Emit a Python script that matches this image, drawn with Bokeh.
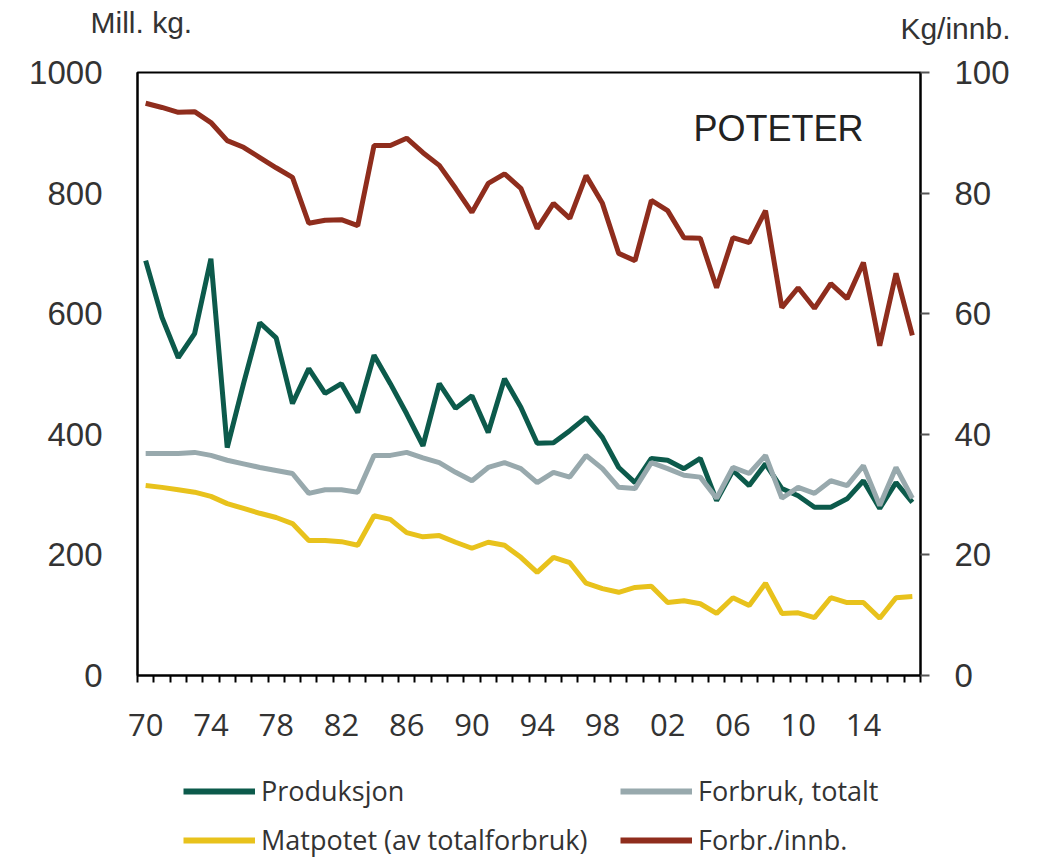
from bokeh.plotting import figure
from bokeh.layouts import column
from bokeh.models import (Range1d, LinearAxis, FixedTicker, Legend, LegendItem, Label)
from bokeh.embed import file_html
from bokeh.resources import INLINE

years = list(range(1970, 2018))

produksjon = [688, 594, 527, 567, 691, 378, 484, 585, 560, 451,
              509, 468, 484, 436, 531, 484, 434, 381, 484, 443,
              464, 403, 492, 445, 385, 386, 406, 428, 395, 345,
              320, 360, 357, 343, 360, 290, 340, 315, 351, 310,
              298, 279, 279, 293, 323, 277, 320, 287]

forbruk_totalt = [368, 368, 368, 370, 365, 357, 351, 345, 340, 335,
                  302, 308, 308, 304, 365, 365, 370, 361, 353, 337,
                  323, 345, 353, 343, 320, 337, 329, 365, 343, 312,
                  310, 353, 343, 332, 329, 294, 345, 335, 365, 294,
                  312, 302, 323, 315, 348, 282, 345, 294]

matpotet = [315, 312, 308, 304, 297, 285, 277, 269, 262, 252,
            224, 224, 222, 216, 265, 259, 237, 230, 232, 221,
            211, 221, 216, 196, 171, 196, 187, 153, 144, 138,
            146, 148, 121, 124, 119, 103, 129, 116, 153, 103,
            104, 96, 129, 121, 121, 95, 129, 131]

forbr_innb = [94.9, 94.2, 93.4, 93.5, 91.7, 88.7, 87.6, 85.9, 84.2, 82.6,
              75.0, 75.5, 75.6, 74.6, 87.9, 87.9, 89.1, 86.7, 84.6, 80.8,
              76.8, 81.6, 83.2, 80.8, 74.1, 78.3, 75.8, 82.9, 78.3, 70.0,
              68.8, 78.8, 77.1, 72.6, 72.5, 64.3, 72.6, 71.8, 77.1, 61.0,
              64.3, 60.9, 65.0, 62.5, 68.5, 54.7, 66.7, 56.4]

series_names = ["Produksjon", "Forbruk, totalt", "Matpotet (av totalforbruk)", "Forbr./innb."]

tick_years = list(range(1970, 2015, 4))
tick_labels = {y: f"{y % 100:02d}" for y in tick_years}
left_ticks = [0, 200, 400, 600, 800, 1000]
right_ticks = [0, 20, 40, 60, 80, 100]

C_GREEN = "#0c5a4b"
C_GRAY = "#98a9ad"
C_YELLOW = "#e8c21c"
C_RED = "#8f2d1d"
TXT = "#333333"

W = 1022

# ---------- header with unit labels ----------
hdr = figure(width=W, height=50, output_backend="svg", toolbar_location=None,
             x_axis_type=None, y_axis_type=None, min_border=0, frame_align=False,
             x_range=Range1d(0, 1), y_range=Range1d(0, 1))
hdr.outline_line_color = None
hdr.add_layout(Label(x=90, y=28, x_units="screen", y_units="screen", text="Mill. kg.",
                     text_font="Liberation Sans", text_font_size="30px", text_color=TXT,
                     text_baseline="middle", text_align="left"))
hdr.add_layout(Label(x=1010, y=22, x_units="screen", y_units="screen", text="Kg/innb.",
                     text_font="Liberation Sans", text_font_size="30px", text_color=TXT,
                     text_baseline="middle", text_align="right"))

# ---------- main chart ----------
p = figure(width=W, height=709, output_backend="svg", toolbar_location=None,
           x_range=Range1d(1969.5, 2017.5), y_range=Range1d(0, 1000),
           min_border_left=137, min_border_right=102, min_border_top=22,
           min_border_bottom=84, x_axis_type=None, y_axis_type=None)
p.background_fill_color = "white"
p.border_fill_color = "white"
p.outline_line_color = "black"
p.outline_line_width = 2

p.extra_y_ranges = {"r": Range1d(0, 100)}

yl = LinearAxis(ticker=FixedTicker(ticks=left_ticks))
yl.axis_line_color = "black"
yl.axis_line_width = 2
yl.major_tick_out = 0
yl.major_tick_in = 0
yl.minor_tick_out = 0
yl.major_label_text_font = "Liberation Sans"
yl.major_label_text_font_size = "33px"
yl.major_label_text_color = TXT
yl.major_label_standoff = 35
p.add_layout(yl, "left")

yr = LinearAxis(y_range_name="r", ticker=FixedTicker(ticks=right_ticks))
yr.axis_line_color = "black"
yr.axis_line_width = 2
yr.major_tick_out = 9
yr.major_tick_in = 0
yr.major_tick_line_color = "#555555"
yr.major_tick_line_width = 2
yr.minor_tick_out = 0
yr.major_label_text_font = "Liberation Sans"
yr.major_label_text_font_size = "33px"
yr.major_label_text_color = TXT
yr.major_label_standoff = 25
p.add_layout(yr, "right")

minor = [y - 0.5 for y in years] + [years[-1] + 0.5]
xb = LinearAxis(ticker=FixedTicker(ticks=tick_years, minor_ticks=minor))
xb.axis_line_color = "black"
xb.axis_line_width = 2
xb.major_tick_out = 0
xb.major_tick_in = 0
xb.minor_tick_out = 7
xb.minor_tick_in = 0
xb.minor_tick_line_color = "black"
xb.minor_tick_line_width = 2
xb.major_label_overrides = tick_labels
xb.major_label_text_font = "Open Sans"
xb.major_label_text_font_size = "31px"
xb.major_label_text_color = TXT
xb.major_label_standoff = 31
p.add_layout(xb, "below")

p.ygrid.ticker = FixedTicker(ticks=[200, 400, 600, 800])
p.ygrid.grid_line_color = "#666666"
p.ygrid.grid_line_width = 2
p.xgrid.visible = False

p.line(years, produksjon, line_color=C_GREEN, line_width=5)
p.line(years, forbruk_totalt, line_color=C_GRAY, line_width=5)
p.line(years, matpotet, line_color=C_YELLOW, line_width=5)
p.line(years, forbr_innb, line_color=C_RED, line_width=5, y_range_name="r")

p.add_layout(Label(x=556, y=547, x_units="screen", y_units="screen", text="POTETER",
                   text_font="Liberation Sans", text_font_size="36px", text_color="#222222",
                   text_baseline="middle", text_align="left"))

# ---------- legend strip ----------
lf = figure(width=W, height=100, output_backend="svg", toolbar_location=None,
            x_axis_type=None, y_axis_type=None, min_border=0, frame_align=False,
            x_range=Range1d(0, 1), y_range=Range1d(0, 1))
lf.outline_line_color = None
# the same series, drawn outside this strip's visible ranges; only their legend entries show
l1 = lf.line(years, produksjon, line_color=C_GREEN, line_width=6)
l2 = lf.line(years, forbruk_totalt, line_color=C_GRAY, line_width=6)
l3 = lf.line(years, matpotet, line_color=C_YELLOW, line_width=6)
l4 = lf.line(years, forbr_innb, line_color=C_RED, line_width=6)

lg = Legend(items=[LegendItem(label=series_names[0], renderers=[l1]),
                   LegendItem(label=series_names[1], renderers=[l2]),
                   LegendItem(label=series_names[2], renderers=[l3]),
                   LegendItem(label=series_names[3], renderers=[l4])],
            orientation="horizontal", ncols=2, location=(183, 1))
lg.padding = 0
lg.margin = 0
lg.border_line_alpha = 0
lg.background_fill_alpha = 0
lg.glyph_width = 72
lg.glyph_height = 26
lg.label_height = 26
lg.label_width = 347
lg.label_standoff = 6
lg.spacing = 12
lg.label_text_font = "Open Sans"
lg.label_text_font_size = "27px"
lg.label_text_color = TXT
lf.add_layout(lg, "center")

layout = column(hdr, p, lf, spacing=0)

open("out.html", "w").write(file_html(layout, INLINE))
